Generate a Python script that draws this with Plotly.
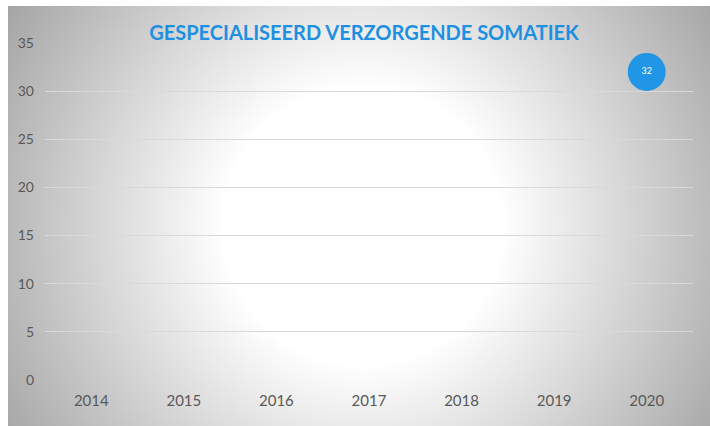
import plotly.graph_objects as go
import urllib.parse

years = ["2014", "2015", "2016", "2017", "2018", "2019", "2020"]
bubble_years = ["2020"]
bubble_values = [32]
bubble_labels = ["32"]
y_ticks = [0, 5, 10, 15, 20, 25, 30, 35]
title_text = "GESPECIALISEERD VERZORGENDE SOMATIEK"

W, H = 710, 426
L, R, T, B = 45, 17, 43, 46
pw, ph = W - L - R, H - T - B

# radial gradient background (as svg image)
bw, bh = 702, 420
svg = (
    f'<svg xmlns="http://www.w3.org/2000/svg" width="{bw}" height="{bh}" viewBox="0 0 {bw} {bh}" preserveAspectRatio="none">'
    '<defs><radialGradient id="g" gradientUnits="userSpaceOnUse" cx="355" cy="220" r="420">'
    '<stop offset="0" stop-color="#ffffff"/>'
    '<stop offset="0.33" stop-color="#ffffff"/>'
    '<stop offset="1" stop-color="#a4a4a4"/>'
    '</radialGradient></defs>'
    f'<rect x="0" y="0" width="{bw}" height="{bh}" fill="url(#g)"/></svg>'
)
src = "data:image/svg+xml;charset=utf-8," + urllib.parse.quote(svg)

fig = go.Figure()
fig.add_trace(go.Scatter(
    x=bubble_years, y=bubble_values, mode="markers+text",
    text=bubble_labels, textposition="middle center",
    textfont=dict(color="white", size=9, family="Lato"),
    marker=dict(size=38, color="#2196E6", line=dict(width=0)),
    showlegend=False, hoverinfo="skip",
))

fig.update_layout(
    width=W, height=H,
    margin=dict(l=L, r=R, t=T, b=B, pad=0, autoexpand=False),
    paper_bgcolor="white",
    plot_bgcolor="rgba(0,0,0,0)",
    images=[dict(
        source=src, xref="paper", yref="paper",
        x=(8 - L) / pw, y=(H - B - 6) / ph,
        sizex=bw / pw, sizey=bh / ph,
        xanchor="left", yanchor="top", sizing="stretch", layer="below",
    )],
    title=dict(
        text=title_text, x=(364 - L) / pw, xref="paper", xanchor="center",
        y=(H - 33) / H, yanchor="middle",
        font=dict(family="Lato", size=20, color="#1E90E2", weight="bold"),
    ),
    xaxis=dict(
        type="category", categoryorder="array", categoryarray=years,
        tickvals=years, range=[-0.5, 6.5], showgrid=False, zeroline=False,
        showline=False, ticks="", ticklabelstandoff=10, automargin=False,
        tickfont=dict(family="Lato", size=15, color="#595959"),
    ),
    yaxis=dict(
        range=[0, 35], tickvals=y_ticks, showgrid=True, gridcolor="#D9D9D9",
        gridwidth=1, zeroline=False, showline=False, ticks="",
        ticklabelstandoff=10, automargin=False,
        tickfont=dict(family="Lato", size=14, color="#595959"),
    ),
)

fig.write_html("out.html", config={"displayModeBar": False},
               post_script="document.body.style.margin='0';")
